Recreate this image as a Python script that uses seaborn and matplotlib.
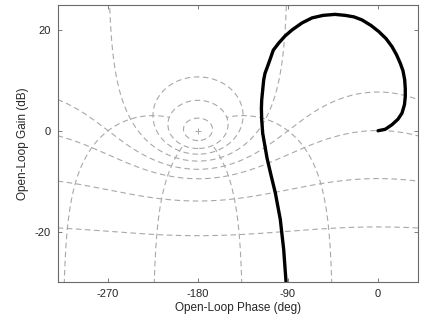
"""
Nichols chart: open-loop gain vs open-loop phase with closed-loop grid.
"""

import numpy as np
import pandas as pd
import matplotlib
matplotlib.use('Agg')
import matplotlib.pyplot as plt
import seaborn as sns

# ================================================================
# Data
# ================================================================
phase_deg = [0, 7.3, 14, 20, 24, 26.5, 27.3, 27.3, 26.7, 25, 22.3, 18.5, 14,
             8, 0.7, -7, -16, -24, -32.7, -43, -55, -66, -76, -86, -93,
             -99.3, -104.7, -109.3, -113, -114.3, -116.3, -116.6, -116.3,
             -115.3, -113, -111, -107, -102.7, -97.7, -94.3, -92]
gain_db = [0, 0.3, 1.2, 2.3, 3.5, 5.2, 6.8, 8.3, 10.1, 11.9, 13.4, 15.1, 16.7,
           18.3, 19.7, 20.9, 22, 22.6, 22.9, 23.1, 22.9, 22.4, 21.4, 20, 18.8,
           17.4, 16, 13.4, 11.4, 10.1, 6.1, 4.4, 2.2,
           -0.5, -3.1, -5.4, -8.8, -12.3, -17.6, -23.6, -29.9]

# closed-loop grid values
cl_mags_db = [12, 6, 3, 0, -3, -6, -12, -20, -40]
cl_phases_deg = [45, 135]

x_ticks = [-270, -180, -90, 0]
y_ticks = [-20, 0, 20]

GRID_COLOR = '#a8a8a8'
GRID_LS = (0, (5, 3.2))
AX_COLOR = '#6a6a6a'

sns.set_style('white')
plt.rcParams['font.family'] = ['Liberation Sans', 'DejaVu Sans']
plt.rcParams['axes.unicode_minus'] = False

fig = plt.figure(figsize=(4.25, 3.2), dpi=100)
ax = fig.add_axes([0.1365, 0.119, 0.847, 0.866])


def draw_grid_line(ph, g):
    ax.plot(ph, g, color=GRID_COLOR, lw=0.8, ls=GRID_LS, zorder=1)


# constant closed-loop magnitude contours
for m_db in cl_mags_db:
    M = 10 ** (m_db / 20)
    if m_db == 0:
        ph = np.linspace(-269.9, -90.1, 800)
        g = -0.5 / np.cos(np.radians(ph))
        draw_grid_line(ph, 20 * np.log10(g))
    elif M > 1:
        c = -M ** 2 / (M ** 2 - 1)
        R = M / (M ** 2 - 1)
        th = np.linspace(0, 2 * np.pi, 600)
        L = c + R * np.exp(1j * th)
        ph = np.degrees(np.angle(L))
        ph = np.where(ph > 0, ph - 360, ph)
        draw_grid_line(ph, 20 * np.log10(np.abs(L)))
    else:
        ph = np.linspace(-400, 80, 1200)
        cp = np.cos(np.radians(ph))
        g = (M ** 2 * cp + np.sqrt(M ** 4 * cp ** 2 + M ** 2 * (1 - M ** 2))) / (1 - M ** 2)
        draw_grid_line(ph, 20 * np.log10(g))

# constant closed-loop phase contours (and their mirror about -180),
# drawn out to the 6 dB circle
r = np.logspace(-3, np.log10(2), 600)
for psi in cl_phases_deg:
    T = r * np.exp(-1j * np.radians(psi))
    L = T / (1 - T)
    ph = np.degrees(np.unwrap(np.angle(L)))
    g = 20 * np.log10(np.abs(L))
    draw_grid_line(ph, g)
    draw_grid_line(-360 - ph, g)

ax.plot([-180], [0], marker='+', color=GRID_COLOR, ms=4, mew=0.7, zorder=1)

# open-loop response
df = pd.DataFrame({'phase': phase_deg, 'gain': gain_db})
sns.lineplot(data=df, x='phase', y='gain', sort=False, estimator=None,
             color='black', lw=2.4, ax=ax, zorder=3,
             solid_capstyle='round', solid_joinstyle='round')

ax.set_xlim(-320, 40)
ax.set_ylim(-30, 25)
ax.set_xticks(x_ticks)
ax.set_yticks(y_ticks)
ax.set_xlabel('Open-Loop Phase (deg)', fontsize=8.5, color='#262626', labelpad=2)
ax.set_ylabel('Open-Loop Gain (dB)', fontsize=8.5, color='#262626', labelpad=4)
ax.tick_params(direction='in', length=3, width=0.6, color=AX_COLOR,
               labelsize=8, labelcolor='#262626', top=True, right=True,
               bottom=True, left=True, pad=5)
for s in ax.spines.values():
    s.set_color(AX_COLOR)
    s.set_linewidth(0.8)

fig.savefig('out.png', dpi=100)
plt.close(fig)
